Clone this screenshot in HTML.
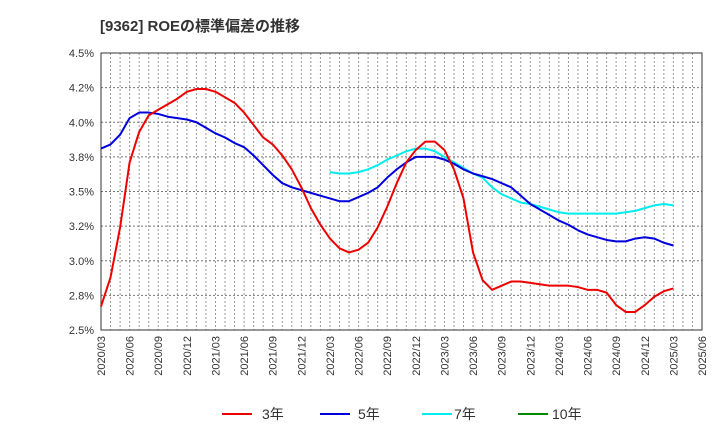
<!DOCTYPE html>
<html><head><meta charset="utf-8"><style>
body{margin:0;background:#fff;}
svg{display:block;font-family:"Liberation Sans","Noto Sans CJK JP",sans-serif;}
</style></head><body>
<svg id="chart" width="720" height="440" viewBox="0 0 720 440" xmlns="http://www.w3.org/2000/svg">
<text x="100" y="31" font-size="15" font-weight="bold" fill="#333">[9362]  ROEの標準偏差の推移</text>
<g id="grid"></g>
<g id="axes"></g>
<g id="series"></g>
<g>
<g><line x1="222" y1="414" x2="252" y2="414" stroke="#e00" stroke-width="2"/><text x="262" y="419" font-size="14" fill="#333">3年</text></g>
<g><line x1="320" y1="414" x2="350" y2="414" stroke="#00d" stroke-width="2"/><text x="358" y="419" font-size="14" fill="#333">5年</text></g>
<g><line x1="422" y1="414" x2="452" y2="414" stroke="#0ee" stroke-width="2"/><text x="454" y="419" font-size="14" fill="#333">7年</text></g>
<g><line x1="518" y1="414" x2="548" y2="414" stroke="#080" stroke-width="2"/><text x="552" y="419" font-size="14" fill="#333">10年</text></g>
</g>
</svg>
<script>
const yTicks=[2.5,2.75,3.0,3.25,3.5,3.75,4.0,4.25,4.5];
const yTickLabels=["2.5%","2.8%","3.0%","3.2%","3.5%","3.8%","4.0%","4.2%","4.5%"];
const xTickLabels=["2020/03","2020/06","2020/09","2020/12","2021/03","2021/06","2021/09","2021/12","2022/03","2022/06","2022/09","2022/12","2023/03","2023/06","2023/09","2023/12","2024/03","2024/06","2024/09","2024/12","2025/03","2025/06"];
const s3=[2.67,2.88,3.24,3.71,3.93,4.05,4.09,4.13,4.17,4.22,4.24,4.24,4.22,4.18,4.14,4.07,3.98,3.89,3.84,3.76,3.66,3.53,3.38,3.26,3.16,3.09,3.06,3.08,3.13,3.24,3.39,3.56,3.71,3.80,3.86,3.86,3.80,3.66,3.45,3.06,2.86,2.79,2.82,2.85,2.85,2.84,2.83,2.82,2.82,2.82,2.81,2.79,2.79,2.77,2.68,2.63,2.63,2.68,2.74,2.78,2.80];
const s5=[3.81,3.84,3.91,4.03,4.07,4.07,4.06,4.04,4.03,4.02,4.00,3.96,3.92,3.89,3.85,3.82,3.76,3.69,3.62,3.56,3.53,3.51,3.49,3.47,3.45,3.43,3.43,3.46,3.49,3.53,3.60,3.66,3.71,3.75,3.75,3.75,3.73,3.70,3.66,3.63,3.61,3.59,3.56,3.53,3.47,3.41,3.37,3.33,3.29,3.26,3.22,3.19,3.17,3.15,3.14,3.14,3.16,3.17,3.16,3.13,3.11];
const s7Start=24;
const s7=[3.64,3.63,3.63,3.64,3.66,3.69,3.73,3.76,3.79,3.81,3.81,3.79,3.75,3.71,3.67,3.63,3.60,3.53,3.48,3.45,3.42,3.41,3.39,3.37,3.35,3.34,3.34,3.34,3.34,3.34,3.34,3.35,3.36,3.38,3.40,3.41,3.40];
const s10=[];
const L=101,R=702,T=53,B=330,NM=63;
const NS="http://www.w3.org/2000/svg";
const xm=i=>L+(R-L)*i/NM;
const yv=v=>B-(B-T)*(v-2.5)/2.0;
function mk(tag,attrs,parent){const e=document.createElementNS(NS,tag);for(const k in attrs)e.setAttribute(k,attrs[k]);parent.appendChild(e);return e;}
const grid=document.getElementById('grid'),axes=document.getElementById('axes'),ser=document.getElementById('series');
for(let i=1;i<NM;i++){const l=mk('line',{x1:xm(i),x2:xm(i),y1:T,y2:B,stroke:'#999','stroke-width':1,'stroke-dasharray':'2,2'},grid);

}
yTicks.forEach((v,i)=>{
 if(i>0&&i<yTicks.length-1){const l=mk('line',{x1:L,x2:R,y1:yv(v),y2:yv(v),stroke:'#777','stroke-width':1,'stroke-dasharray':'2,2'},grid);
 
 }
 const t=mk('text',{x:94,y:yv(v)+4,'text-anchor':'end','font-size':11,fill:'#333'},axes);t.textContent=yTickLabels[i];
 
 
});
xTickLabels.forEach((s,i)=>{const x=xm(i*3);const t=mk('text',{x:0,y:0,'text-anchor':'end','font-size':11,fill:'#333',transform:`translate(${x+4},${B+6}) rotate(-90)`},axes);t.textContent=s;
 
 });
const fr=mk('rect',{x:L,y:T,width:R-L,height:B-T,fill:'none',stroke:'#333','stroke-width':1},axes);


function line(arr,start,color,name){if(!arr.length)return;const p=mk('polyline',{points:arr.map((v,i)=>xm(start+i)+','+yv(v)).join(' '),fill:'none',stroke:color,'stroke-width':2,'stroke-linejoin':'round'},ser);

}
line(s7,s7Start,'#0ee','line-7y');
line(s5,0,'#00d','line-5y');
line(s3,0,'#e00','line-3y');
line(s10,0,'#080','line-10y');
</script>
</body></html>
